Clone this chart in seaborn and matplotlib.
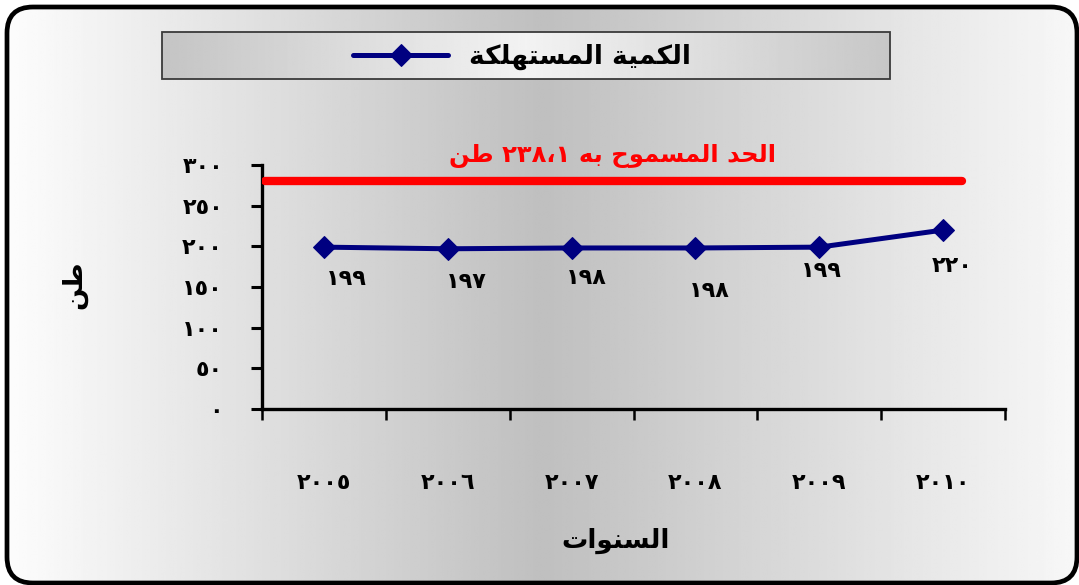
import numpy as np
import pandas as pd
import matplotlib
matplotlib.use("Agg")
import matplotlib.pyplot as plt
import seaborn as sns
from matplotlib.patches import FancyBboxPatch, Rectangle

# --- data ---
years = ["٢٠٠٥", "٢٠٠٦", "٢٠٠٧", "٢٠٠٨", "٢٠٠٩", "٢٠١٠"]
consumed = [199, 197, 198, 198, 199, 220]
value_labels = ["١٩٩", "١٩٧", "١٩٨", "١٩٨", "١٩٩", "٢٢٠"]
limit_level = 280
y_ticks = [0, 50, 100, 150, 200, 250, 300]
y_tick_labels = ["٠", "٥٠", "١٠٠", "١٥٠", "٢٠٠", "٢٥٠", "٣٠٠"]

series_name = "الكمية المستهلكة"
limit_text = "الحد المسموح به ٢٣٨،١ طن"
x_title = "السنوات"
y_title = "طن"

# hand-placed label offsets (pixels) as in the reference
label_offsets = [(22, -32), (19, -33), (15, -30), (14, -43), (2, -24), (9, -36)]

# --- minimal arabic shaping (matplotlib draws glyphs left to right) ---
FORMS = {
    "ا": ("\uFE8D", "\uFE8E", None, None),
    "د": ("\uFEA9", "\uFEAA", None, None),
    "و": ("\uFEED", "\uFEEE", None, None),
    "ة": ("\uFE93", "\uFE94", None, None),
    "ل": ("\uFEDD", "\uFEDE", "\uFEDF", "\uFEE0"),
    "ك": ("\uFED9", "\uFEDA", "\uFEDB", "\uFEDC"),
    "م": ("\uFEE1", "\uFEE2", "\uFEE3", "\uFEE4"),
    "ي": ("\uFEF1", "\uFEF2", "\uFEF3", "\uFEF4"),
    "س": ("\uFEB1", "\uFEB2", "\uFEB3", "\uFEB4"),
    "ت": ("\uFE95", "\uFE96", "\uFE97", "\uFE98"),
    "ه": ("\uFEE9", "\uFEEA", "\uFEEB", "\uFEEC"),
    "ح": ("\uFEA1", "\uFEA2", "\uFEA3", "\uFEA4"),
    "ب": ("\uFE8F", "\uFE90", "\uFE91", "\uFE92"),
    "ط": ("\uFEC1", "\uFEC2", "\uFEC3", "\uFEC4"),
    "ن": ("\uFEE5", "\uFEE6", "\uFEE7", "\uFEE8"),
}


def shape_word(w):
    if not any(c in FORMS for c in w):
        return w
    out = []
    for i, c in enumerate(w):
        if c not in FORMS:
            out.append(c)
            continue
        iso, fin, ini, med = FORMS[c]
        prev = w[i - 1] if i > 0 else None
        nxt = w[i + 1] if i + 1 < len(w) else None
        jp = prev in FORMS and FORMS[prev][2] is not None
        jn = nxt in FORMS and ini is not None
        if jp and jn:
            out.append(med)
        elif jp:
            out.append(fin)
        elif jn:
            out.append(ini)
        else:
            out.append(iso)
    return "".join(reversed(out))


def rtl(text):
    return " ".join(shape_word(w) for w in reversed(text.split(" ")))


# --- figure ---
sns.set_style("white")
plt.rcParams["font.family"] = ["DejaVu Sans"]
plt.rcParams["font.weight"] = "bold"
plt.rcParams["text.color"] = "black"
plt.rcParams["xtick.color"] = "black"
plt.rcParams["ytick.color"] = "black"

W, H = 1079, 585
fig = plt.figure(figsize=(W / 100, H / 100), dpi=100)
fig.patch.set_facecolor("white")

# background panel with gradient and rounded border
bg = fig.add_axes([0, 0, 1, 1], zorder=0)
bg.set_xlim(0, W)
bg.set_ylim(H, 0)
bg.axis("off")
xs = np.linspace(0, 1, 400)
shade = np.interp(xs, [0, 0.5, 1], [0.99, 0.75, 0.97])
grad = np.tile(shade, (2, 1))
im = bg.imshow(grad, cmap="gray", vmin=0, vmax=1, aspect="auto",
               extent=[7, W - 2, H - 2, 7], interpolation="bilinear")
frame = FancyBboxPatch((7, 7), W - 9, H - 9,
                       boxstyle="round,pad=0,rounding_size=26",
                       fc="none", ec="black", lw=3.4, zorder=3)
bg.add_patch(frame)
im.set_clip_path(frame)

# legend box with its own gradient
lshade = np.interp(xs, [0, 0.5, 1], [0.77, 0.95, 0.78])
bg.imshow(np.tile(lshade, (2, 1)), cmap="gray", vmin=0, vmax=1,
          aspect="auto", extent=[162, 890, 79, 32],
          interpolation="bilinear", zorder=2)
bg.add_patch(Rectangle((162, 32), 728, 47, fc="none", ec="#3a3a3a",
                       lw=1.3, zorder=3))

# main axes
ax = fig.add_axes([262 / W, 1 - 409 / H, 743 / W, 244 / H], zorder=1)
ax.patch.set_alpha(0)

df = pd.DataFrame({"year": years, "value": consumed})
df["pos"] = np.arange(len(years))
sns.lineplot(data=df, x="pos", y="value", ax=ax, color="#000080",
             lw=3.6, marker="D", markersize=11, markeredgecolor="#000080",
             label=rtl(series_name), zorder=4)
ax.set_xlabel("")
ax.set_ylabel("")

ax.axhline(limit_level, xmin=0.004, xmax=0.942, color="#ff0000", lw=6, zorder=3)
ax.text(0.472, 1.035, rtl(limit_text), transform=ax.transAxes, ha="center",
        va="center", color="#ff0000", fontsize=17.5, fontweight="bold")

for i, (v, lab) in enumerate(zip(consumed, value_labels)):
    dx, dy = label_offsets[i]
    ax.annotate(lab, (i, v), xytext=(dx, dy), textcoords="offset pixels",
                ha="center", va="center", fontsize=16, fontweight="bold")

ax.set_xlim(-0.5, len(years) - 0.5)
ax.set_ylim(0, 300)
ax.set_xticks(np.arange(-0.5, len(years)))
ax.set_xticklabels([])
ax.set_xticks(np.arange(len(years)), minor=True)
ax.set_xticklabels(years, minor=True, fontsize=16, fontweight="bold")
ax.tick_params(axis="x", which="major", length=8, width=1.8, direction="out",
               bottom=True)
ax.tick_params(axis="x", which="minor", length=0, pad=46)
ax.set_yticks(y_ticks)
ax.set_yticklabels(y_tick_labels, fontsize=16, fontweight="bold")
ax.tick_params(axis="y", length=8, width=2.2, direction="out", left=True,
               pad=20)

for side in ["top", "right"]:
    ax.spines[side].set_visible(False)
for side in ["left", "bottom"]:
    ax.spines[side].set_color("black")
    ax.spines[side].set_linewidth(2.4)

# axis titles placed in figure pixels like the reference
fig.text(616 / W, 1 - 541 / H, rtl(x_title), ha="center", va="center",
         fontsize=19, fontweight="bold")
fig.text(74 / W, 1 - 285 / H, rtl(y_title), ha="center", va="center",
         rotation=90, fontsize=19, fontweight="bold")

ax.legend(loc="center", bbox_to_anchor=(522 / W, 1 - 57 / H),
          bbox_transform=fig.transFigure, frameon=False, handlelength=3.6,
          prop={"size": 19, "weight": "bold"})

fig.savefig("out.png", dpi=100)
